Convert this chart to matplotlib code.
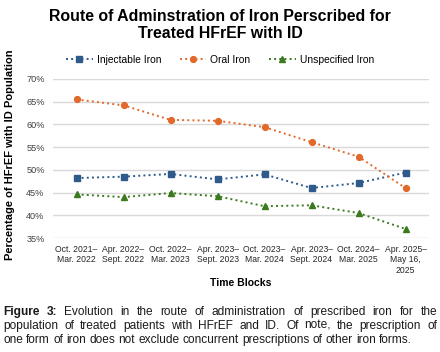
import matplotlib
matplotlib.use('Agg')
import matplotlib.pyplot as plt

plt.rcParams['font.family'] = ['Liberation Sans', 'DejaVu Sans']

blocks = ['Oct. 2021–\nMar. 2022', 'Apr. 2022–\nSept. 2022', 'Oct. 2022–\nMar. 2023',
          'Apr. 2023–\nSept. 2023', 'Oct. 2023–\nMar. 2024', 'Apr. 2023–\nSept. 2024',
          'Oct. 2024–\nMar. 2025', 'Apr. 2025–\nMay 16,\n2025']
injectable = [48.2, 48.5, 49.1, 47.9, 49.0, 46.0, 47.1, 49.4]
oral = [65.5, 64.2, 61.0, 60.8, 59.4, 56.1, 52.9, 46.0]
unspecified = [44.6, 44.0, 44.9, 44.2, 42.0, 42.2, 40.5, 37.0]
yticks = [35, 40, 45, 50, 55, 60, 65, 70]

caption_lines = [
    'Figure 3: Evolution in the route of administration of prescribed iron for the',
    'population of treated patients with HFrEF and ID. Of note, the prescription of',
    'one form of iron does not exclude concurrent prescriptions of other iron forms.',
]

fig = plt.figure(figsize=(4.4, 3.52), dpi=100)
ax = fig.add_axes([53/440, 1-238/352, 376/440, 159/352])

x = range(len(blocks))
ax.plot(x, injectable, ':', color='#2E5B8C', lw=1.4, marker='s', ms=4.2, label='Injectable Iron')
ax.plot(x, oral, ':', color='#E2692A', lw=1.4, marker='o', ms=4.2, label='Oral Iron')
ax.plot(x, unspecified, ':', color='#3B7A1F', lw=1.4, marker='^', ms=4.2, label='Unspecified Iron')

ax.set_xlim(-0.5, len(blocks) - 0.5)
ax.set_ylim(35, 70)
ax.set_yticks(yticks)
ax.set_yticklabels([f'{v}%' for v in yticks])
ax.set_xticks(list(x))
ax.set_xticklabels(blocks, fontsize=6.2, color='#262626')
ax.tick_params(axis='y', labelsize=6.6, labelcolor='#404040', length=0, pad=6)
ax.tick_params(axis='x', length=0, pad=5)
ax.grid(axis='y', color='#D9D9D9', lw=1)
ax.set_axisbelow(True)
for s in ax.spines.values():
    s.set_visible(False)

ax.set_xlabel('Time Blocks', fontsize=7.5, fontweight='bold', labelpad=2)
ax.set_ylabel('Percentage of HFrEF with ID Population', fontsize=8, fontweight='bold')
ax.yaxis.set_label_coords(-0.101, 0.522)

fig.text(0.5, 1 - 25/352, 'Route of Adminstration of Iron Perscribed for\nTreated HFrEF with ID',
         ha='center', va='center', fontsize=11.4, fontweight='bold', linespacing=1.15)

fig.legend(*ax.get_legend_handles_labels(), loc='center', bbox_to_anchor=(0.5, 1 - 60/352),
           ncol=3, frameon=False, fontsize=7.4, handlelength=2.6, handletextpad=0.4,
           columnspacing=1.8, borderaxespad=0)

# justified caption, line breaks as in the original
fig.canvas.draw()
r = fig.canvas.get_renderer()
left, right = 3, 437
line_y = [315, 329, 343]

def width(t, fs, bold=False):
    tt = fig.text(0, 0, t, fontsize=fs, fontweight='bold' if bold else 'normal')
    w = tt.get_window_extent(r).width
    tt.remove()
    return w

fs = 8.0 * 416 / width(caption_lines[2], 8.0)
space = width('a b', fs) - width('ab', fs)

for i, line in enumerate(caption_lines):
    ws = line.split()
    items = []
    for j, w in enumerate(ws):
        b = (i == 0 and j < 2)
        items.append((w, b, width(w, fs, b)))
    total = sum(it[2] for it in items)
    if i < len(caption_lines) - 1:
        gap = (right - left - total) / (len(items) - 1)
    else:
        gap = space
    xp = left
    for w, b, ww in items:
        fig.text(xp / 440, 1 - line_y[i] / 352, w, fontsize=fs, va='baseline', ha='left',
                 fontweight='bold' if b else 'normal', color='#1a1a1a')
        xp += ww + gap

fig.savefig('out.png', dpi=100)
